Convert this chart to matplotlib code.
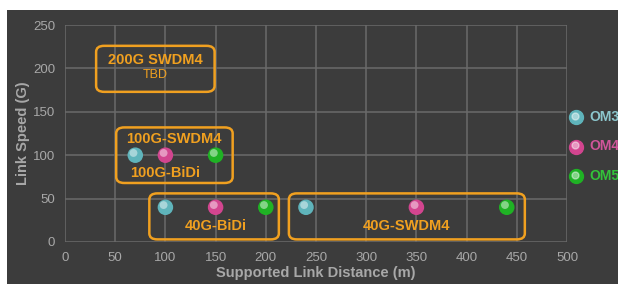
import matplotlib.pyplot as plt
from matplotlib.patches import FancyBboxPatch, Rectangle
from matplotlib.transforms import offset_copy

# fibre types and their supported distances (m) at each link speed (G)
fibres = ["OM3", "OM4", "OM5"]
colors = ["#5fb4bb", "#d2458f", "#1fb224"]
text_colors = ["#8cc6cc", "#d0559a", "#33c23a"]
speeds = [100, 40, 40]
om3_dist = [70, 100, 240]
om4_dist = [100, 150, 350]
om5_dist = [150, 200, 440]
distances = [om3_dist, om4_dist, om5_dist]

# technology groups: (label, x0, y0, x1, y1)
groups = [
    ("200G", 31, 173, 149, 226),
    ("100G", 51, 68, 167, 132),
    ("40G-BiDi", 84, 3, 213, 56),
    ("40G-SWDM4", 223, 3, 458, 56),
]

orange = "#f0a020"
bg = "#3c3c3c"
grey = "#a8a8a8"

plt.rcParams["font.family"] = ["Liberation Sans", "DejaVu Sans"]

fig = plt.figure(figsize=(6.18, 2.84), dpi=100, facecolor="white")
fig.patches.append(Rectangle((7 / 618, 0), 1, 1 - 10 / 284, transform=fig.transFigure,
                             facecolor=bg, edgecolor="none", zorder=-5))
ax = fig.add_axes([65 / 618, 42 / 284, 502 / 618, 217 / 284])
ax.set_facecolor(bg)
ax.set_xlim(0, 500)
ax.set_ylim(0, 250)
ax.set_xticks(range(0, 501, 50))
ax.set_yticks(range(0, 251, 50))
ax.grid(True, color="#6a6a6a", linewidth=1.1)
ax.set_axisbelow(True)
for s in ax.spines.values():
    s.set_visible(False)
ax.tick_params(length=0, colors=grey, labelsize=9.5, pad=7)
ax.set_xlabel("Supported Link Distance (m)", color=grey, fontsize=10.5, fontweight="bold", labelpad=2)
ax.set_ylabel("Link Speed (G)", color=grey, fontsize=10.5, fontweight="bold", labelpad=2)

# rounded boxes
for name, x0, y0, x1, y1 in groups:
    ax.add_patch(FancyBboxPatch((x0, y0), x1 - x0, y1 - y0,
                                boxstyle="round,pad=0,rounding_size=8",
                                mutation_aspect=0.87,
                                facecolor="none", edgecolor=orange, linewidth=1.8, zorder=2))

hl = offset_copy(ax.transData, fig=fig, x=-1.3, y=1.6, units="points")
for name, d, c in zip(fibres, distances, colors):
    ax.scatter(d, speeds, s=125, color=c, edgecolors="none", zorder=3)
    ax.scatter(d, speeds, s=32, color="white", alpha=0.45, edgecolors="none", zorder=4, transform=hl)

ax.text(90, 210, "200G SWDM4", color=orange, fontsize=10.5, fontweight="bold", ha="center", va="center")
ax.text(90, 192, "TBD", color=orange, fontsize=9, ha="center", va="center")
ax.text(108, 119, "100G-SWDM4", color=orange, fontsize=10.5, fontweight="bold", ha="center", va="center")
ax.text(100, 79, "100G-BiDi", color=orange, fontsize=10.5, fontweight="bold", ha="center", va="center")
ax.text(150, 18, "40G-BiDi", color=orange, fontsize=10.5, fontweight="bold", ha="center", va="center")
ax.text(340, 18, "40G-SWDM4", color=orange, fontsize=10.5, fontweight="bold", ha="center", va="center")

# legend drawn to the right of the axes
for i, (name, c, tc) in enumerate(zip(fibres, colors, text_colors)):
    yf = 1 - (117 + 29.5 * i) / 284
    fig.add_artist(plt.Line2D([576 / 618], [yf], marker="o", markersize=10, color=c,
                              linestyle="none", transform=fig.transFigure))
    fig.add_artist(plt.Line2D([575 / 618], [yf + 1.5 / 284], marker="o", markersize=5, color="white",
                              alpha=0.45, linestyle="none", transform=fig.transFigure))
    fig.text(589 / 618, yf, name, color=tc, fontsize=10, fontweight="bold", va="center")

fig.savefig("out.png", dpi=100, facecolor="white")
